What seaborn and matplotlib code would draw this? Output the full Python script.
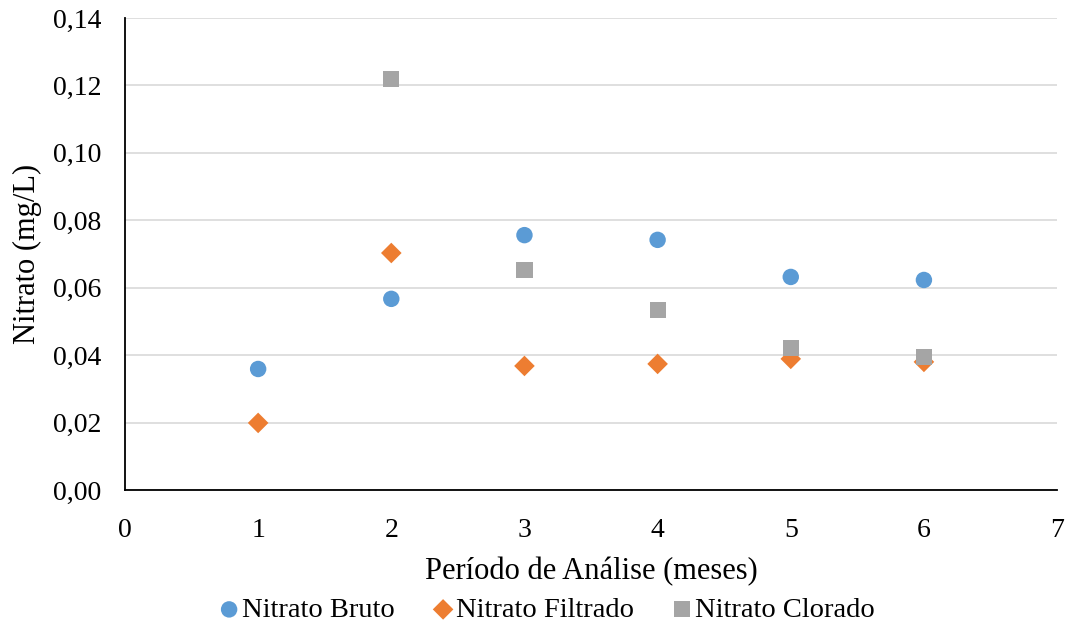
import numpy as np
import pandas as pd
import matplotlib
matplotlib.use("Agg")
import matplotlib.pyplot as plt
import seaborn as sns
from matplotlib.ticker import FuncFormatter, MultipleLocator

meses = [1, 2, 3, 4, 5, 6]
bruto = [0.0359, 0.0567, 0.0756, 0.0742, 0.0632, 0.0623]
filtrado = [0.0199, 0.0703, 0.0368, 0.0374, 0.0389, 0.0380]
clorado = [np.nan, 0.1219, 0.0653, 0.0534, 0.0421, 0.0395]
series_names = ["Nitrato Bruto", "Nitrato Filtrado", "Nitrato Clorado"]
colors = ["#5B9BD5", "#ED7D31", "#A5A5A5"]
markers = ["o", "D", "s"]

rows = []
for name, vals in zip(series_names, [bruto, filtrado, clorado]):
    for m, v in zip(meses, vals):
        rows.append({"mes": m, "valor": v, "serie": name})
df = pd.DataFrame(rows).dropna()

sns.set_style("white")
plt.rcParams["font.family"] = ["Liberation Serif", "DejaVu Serif"]
plt.rcParams["text.color"] = "black"
plt.rcParams["axes.labelcolor"] = "black"

fig = plt.figure(figsize=(10.71, 6.3), dpi=100)
ax = fig.add_axes([0.1167, 0.2222, 0.987 - 0.1167, 0.9714 - 0.2222])

sizes = {"Nitrato Bruto": 140, "Nitrato Filtrado": 110, "Nitrato Clorado": 135}
for name, col, mk in zip(series_names, colors, markers):
    sub = df[df["serie"] == name]
    sns.scatterplot(data=sub, x="mes", y="valor", color=col, marker=mk,
                    s=sizes[name], edgecolor="none", ax=ax, label=name, zorder=3)

ax.set_xlim(0, 7)
ax.set_ylim(0, 0.14)
ax.xaxis.set_major_locator(MultipleLocator(1))
ax.yaxis.set_major_locator(MultipleLocator(0.02))
ax.yaxis.set_major_formatter(FuncFormatter(lambda v, p: f"{v:.2f}".replace(".", ",")))
ax.xaxis.set_major_formatter(FuncFormatter(lambda v, p: f"{int(round(v))}"))
ax.grid(axis="y", color="#D9D9D9", linewidth=1.2)
ax.set_axisbelow(True)
for s in ["top", "right"]:
    ax.spines[s].set_visible(False)
for s in ["left", "bottom"]:
    ax.spines[s].set_color("black")
    ax.spines[s].set_linewidth(1.3)
ax.tick_params(axis="y", labelsize=20, length=0, pad=17, colors="black")
ax.tick_params(axis="x", labelsize=20, length=0, pad=20, colors="black")
ax.set_xlabel("Período de Análise (meses)", fontsize=22, labelpad=10, color="black")
ax.set_ylabel("Nitrato (mg/L)", fontsize=22, labelpad=8, color="black")

ax.legend(loc="center", bbox_to_anchor=(0.452, -0.254), ncol=3, frameon=False,
          fontsize=20.5, handlelength=0.8, handletextpad=0.05, columnspacing=1.3,
          markerscale=1.0)

fig.savefig("out.png", dpi=100)
